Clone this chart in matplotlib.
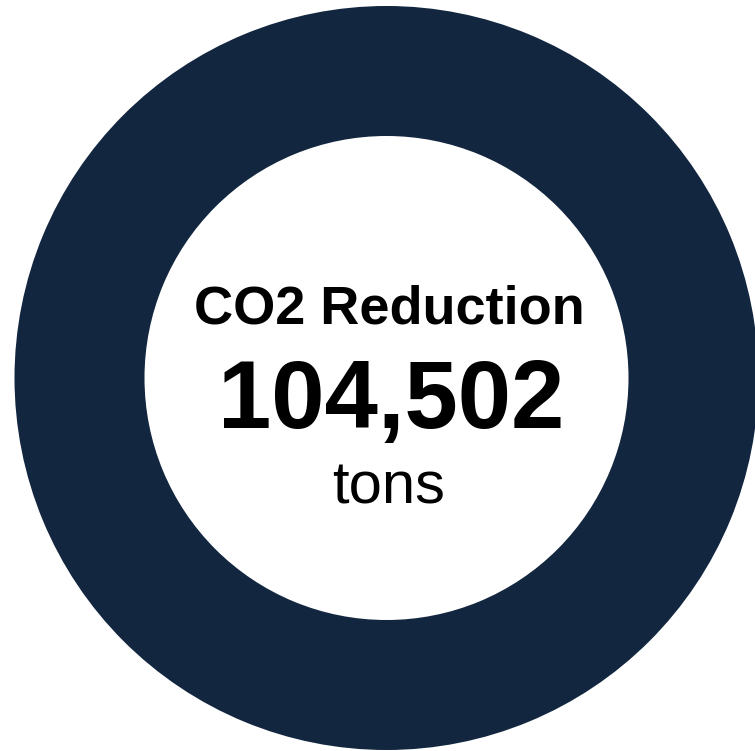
import matplotlib.pyplot as plt

# donut data
labels = ["CO2 Reduction"]
values = [104502]
unit = "tons"
ring_color = "#12263f"

fig = plt.figure(figsize=(7.55, 7.51), dpi=100)
ax = fig.add_axes([0, 0, 1, 1])

# one full ring, positioned in pixel space
ax.pie(values, colors=[ring_color], center=(386.5, 751 - 378), radius=372,
       startangle=90, wedgeprops=dict(width=130, edgecolor="none"))
ax.set_xlim(0, 755)
ax.set_ylim(0, 751)
ax.set_aspect("equal")
ax.axis("off")

font = "Liberation Sans"
ax.text(389, 751 - 323, labels[0], ha="center", va="baseline",
        fontsize=39, fontweight="bold", family=font)
ax.text(391, 751 - 428, f"{values[0]:,}", ha="center", va="baseline",
        fontsize=69, fontweight="bold", family=font)
ax.text(389, 751 - 503, unit, ha="center", va="baseline",
        fontsize=43, family=font)

fig.savefig("out.png", dpi=100)
